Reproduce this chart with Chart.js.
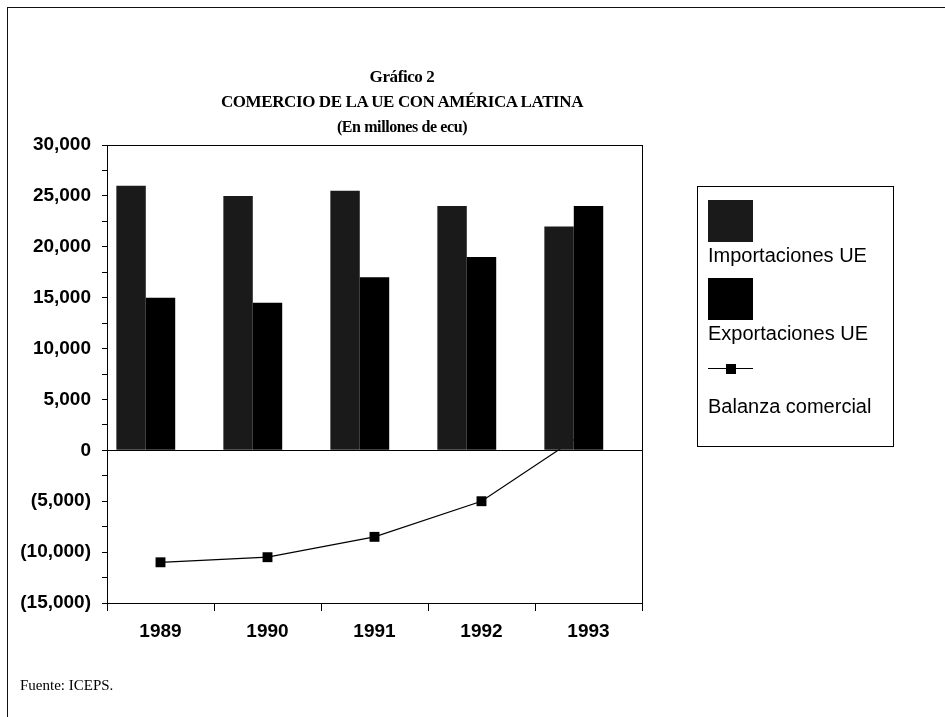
<!DOCTYPE html>
<html lang="es">
<head>
<meta charset="UTF-8">
<title>Gráfico 2 - Comercio de la UE con América Latina</title>
<script src="https://cdn.jsdelivr.net/npm/chart.js@4.4.0/dist/chart.umd.min.js"></script>
<style>
  body { margin: 0; background: #fff; }
  #page { position: relative; width: 945px; height: 717px; overflow: hidden; background: #fff; }
  #frame { position: absolute; left: 7px; top: 7px; width: 945px; height: 720px;
           border-left: 1px solid #111; border-top: 1px solid #111; }
  #graphCanvas { position: absolute; left: 0; top: 0; }
  #titulo { position: absolute; left: 202px; top: 64px; width: 400px; text-align: center;
            font-family: "Liberation Serif", "Times New Roman", serif; font-weight: bold; color: #000;
            letter-spacing: -0.4px; }
  #titulo div { height: 25px; line-height: 25px; font-size: 17px; }
  #titulo .sub { font-size: 16px; }
  #fuente { position: absolute; left: 20px; top: 676px; line-height: 18px;
            font-family: "Liberation Serif", "Times New Roman", serif; font-size: 15px; color: #000; }
  #leyenda { position: absolute; left: 697px; top: 186px; width: 197px; height: 261px;
             box-sizing: border-box; border: 1px solid #000; padding: 13px 0 0 10px;
             font-family: "Liberation Sans", Arial, sans-serif; color: #000; }
  .item { margin-bottom: 13px; }
  .sym-bar { width: 45px; height: 42px; }
  .sym-line { position: relative; width: 45px; height: 12px; margin-top: 20px; }
  .sym-line .l { position: absolute; left: 0; right: 0; top: 5px; height: 1px; background: #000; }
  .sym-line .m { position: absolute; left: 18px; top: 1px; width: 10px; height: 10px; background: #000; }
  .txt { font-size: 20px; line-height: 20px; margin-top: 3px; white-space: nowrap; }
  .line-item .txt { margin-top: 21px; }
</style>
</head>
<body>
<div id="page">
  <div id="frame"></div>
  <canvas id="graphCanvas" width="945" height="717"></canvas>
  <div id="titulo">
    <div>Gráfico 2</div>
    <div>COMERCIO DE LA UE CON AMÉRICA LATINA</div>
    <div class="sub">(En millones de ecu)</div>
  </div>
  <div id="leyenda"></div>
  <div id="fuente">Fuente: ICEPS.</div>
</div>
<script>
    // datos (millones de ecu)
    var anios = ['1989', '1990', '1991', '1992', '1993'];
    var importaciones = [26000, 25000, 25500, 24000, 22000];
    var exportaciones = [15000, 14500, 17000, 19000, 24000];
    var balanza = [-11000, -10500, -8500, -5000, 2000];

    var nomImport = 'Importaciones UE';
    var nomExport = 'Exportaciones UE';
    var nomBalanza = 'Balanza comercial';

    var yMin = -15000, yMax = 30000, yPaso = 2500, yEtiqueta = 5000;

    var fuenteEje = { family: "'Liberation Sans', Arial, sans-serif", size: 19, weight: 'bold' };

    function formato(v) {
        var s = Math.abs(v).toLocaleString('en-US');
        return v < 0 ? '(' + s + ')' : s;
    }

    // marco negro alrededor del area del grafico
    var marco = {
        id: 'marco',
        afterDatasetsDraw: function (chart) {
            var a = chart.chartArea, c = chart.ctx;
            c.save();
            c.strokeStyle = '#000';
            c.lineWidth = 1;
            c.strokeRect(Math.round(a.left) + 0.5, Math.round(a.top) + 0.5,
                         Math.round(a.right - a.left), Math.round(a.bottom - a.top));
            c.restore();
        }
    };

    var grafico = new Chart(document.getElementById('graphCanvas'), {
        type: 'bar',
        data: {
            labels: anios,
            datasets: [{
                label: nomImport,
                data: importaciones,
                backgroundColor: '#1a1a1a',
                borderWidth: 0,
                order: 0
            }, {
                label: nomExport,
                data: exportaciones,
                backgroundColor: '#000000',
                borderWidth: 0,
                order: 0
            }, {
                // hueco vacio a la derecha de cada grupo, como en el original
                label: '',
                data: anios.map(function () { return null; }),
                backgroundColor: 'rgba(0,0,0,0)',
                order: 0
            }, {
                type: 'line',
                label: nomBalanza,
                data: balanza,
                borderColor: '#000',
                borderWidth: 1.2,
                tension: 0,
                pointStyle: 'rect',
                pointRadius: 7,
                pointBackgroundColor: '#000',
                pointBorderWidth: 0,
                order: 1 // dibujada debajo de las barras
            }]
        },
        options: {
            responsive: false,
            animation: false,
            devicePixelRatio: 1,
            layout: { padding: { left: 0, top: 145, right: 303, bottom: 74 } },
            plugins: {
                legend: { display: false },
                tooltip: { enabled: false }
            },
            datasets: {
                bar: { categoryPercentage: 0.825, barPercentage: 1.0 }
            },
            scales: {
                x: {
                    offset: true,
                    grid: { offset: true, drawOnChartArea: false, drawTicks: true, tickLength: 8, color: '#000' },
                    border: { display: true, color: '#000', width: 1 },
                    ticks: { color: '#000', font: fuenteEje, padding: 9, maxRotation: 0 },
                    afterFit: function (scale) { scale.height = 40; }
                },
                y: {
                    min: yMin,
                    max: yMax,
                    grid: {
                        color: function (ctx) { return ctx.tick && ctx.tick.value === 0 ? '#000' : 'rgba(0,0,0,0)'; },
                        tickColor: '#000',
                        tickLength: 5
                    },
                    border: { display: true, color: '#000', width: 1 },
                    ticks: {
                        stepSize: yPaso,
                        autoSkip: false,
                        color: '#000',
                        font: fuenteEje,
                        padding: 11,
                        callback: function (v) { return v % yEtiqueta === 0 ? formato(v) : ''; }
                    },
                    afterFit: function (scale) { scale.width = 107; }
                }
            }
        },
        plugins: [marco]
    });

    // leyenda en HTML: simbolo arriba, texto debajo
    var leyenda = document.getElementById('leyenda');
    grafico.data.datasets.forEach(function (ds) {
        if (!ds.label) return;
        var item = document.createElement('div');
        item.className = 'item';
        var sym = document.createElement('div');
        if (ds.type === 'line') {
            item.className += ' line-item';
            sym.className = 'sym-line';
            sym.innerHTML = '<div class="l"></div><div class="m"></div>';
        } else {
            sym.className = 'sym-bar';
            sym.style.background = ds.backgroundColor;
        }
        var txt = document.createElement('div');
        txt.className = 'txt';
        txt.textContent = ds.label;
        item.appendChild(sym);
        item.appendChild(txt);
        leyenda.appendChild(item);
    });
</script>
</body>
</html>
